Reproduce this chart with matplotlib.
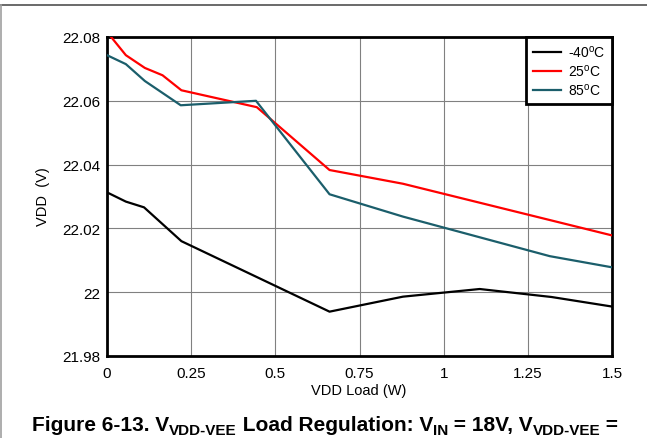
import matplotlib
matplotlib.use('Agg')
import matplotlib.pyplot as plt
from matplotlib.ticker import FixedLocator, FuncFormatter
from matplotlib.lines import Line2D

plt.rcParams['font.family'] = ['Liberation Sans', 'DejaVu Sans']
plt.rcParams['mathtext.fontset'] = 'custom'
plt.rcParams['mathtext.rm'] = 'Liberation Sans'
plt.rcParams['mathtext.bf'] = 'Liberation Sans:bold'

# data
load_m40 = [0, 0.056, 0.11, 0.221, 0.661, 0.879, 1.107, 1.32, 1.5]
vdd_m40 = [22.0313, 22.0284, 22.0266, 22.016, 21.9939, 21.9986, 22.001, 21.9985, 21.9955]
load_25 = [0, 0.056, 0.1125, 0.165, 0.221, 0.445, 0.661, 0.879, 1.5]
vdd_25 = [22.0816, 22.0743, 22.0703, 22.068, 22.0633, 22.058, 22.0383, 22.034, 22.0178]
load_85 = [0, 0.056, 0.1125, 0.219, 0.4425, 0.661, 0.879, 1.315, 1.5]
vdd_85 = [22.0743, 22.0715, 22.0662, 22.0586, 22.06, 22.0307, 22.0237, 22.0113, 22.0078]
series_labels = ['-40$^{\\mathrm{o}}$C', '25$^{\\mathrm{o}}$C', '85$^{\\mathrm{o}}$C']
series_colors = ['black', '#ff0000', '#1b5e6b']
x_ticks = [0, 0.25, 0.5, 0.75, 1, 1.25, 1.5]
y_ticks = [21.98, 22, 22.02, 22.04, 22.06, 22.08]

W, H = 647, 439
fig = plt.figure(figsize=(W / 100, H / 100), dpi=100)
ax = fig.add_axes([107 / W, 1 - 357 / H, 505 / W, 319 / H])

for xs, ys, lab, col in zip([load_m40, load_25, load_85], [vdd_m40, vdd_25, vdd_85],
                            series_labels, series_colors):
    ax.plot(xs, ys, color=col, lw=1.6, label=lab, zorder=3)

ax.set_xlim(0, 1.5)
ax.set_ylim(21.98, 22.08)
ax.xaxis.set_major_locator(FixedLocator(x_ticks))
ax.yaxis.set_major_locator(FixedLocator(y_ticks))
fmt = FuncFormatter(lambda v, p: '{:g}'.format(round(v, 4)))
ax.xaxis.set_major_formatter(fmt)
ax.yaxis.set_major_formatter(fmt)
ax.tick_params(length=0, labelsize=11, colors='black')
ax.tick_params(axis='x', pad=7.5)
ax.tick_params(axis='y', pad=5)
ax.grid(True, color='#808080', lw=0.8)
ax.set_axisbelow(True)
for s in ax.spines.values():
    s.set_linewidth(2)
    s.set_color('black')

leg = ax.legend(loc='upper right', fontsize=10, frameon=True, fancybox=False,
                borderaxespad=0, handlelength=2.0, handletextpad=0.5,
                labelspacing=0.2, borderpad=0.5)
leg.get_frame().set_edgecolor('black')
leg.get_frame().set_linewidth(2)
leg.get_frame().set_alpha(1)

fig.text(359 / W, 1 - 391 / H, 'VDD Load (W)', ha='center', va='center', fontsize=10.5)
fig.text(43 / W, 1 - 197 / H, 'VDD  (V)', ha='center', va='center', rotation=90, fontsize=10.5)

# page frame lines
fig.add_artist(Line2D([0, 1], [1 - 5.5 / H, 1 - 5.5 / H], color='#505050', lw=1.2))
fig.add_artist(Line2D([1 / W, 1 / W], [0, 1 - 5.5 / H], color='#a0a0a0', lw=1.2))

# caption with subscripts, drawn piece by piece
pieces = [('Figure 6-13. V', False), ('VDD-VEE', True), (' Load Regulation: V', False),
          ('IN', True), (' = 18V, V', False), ('VDD-VEE', True), (' =', False)]
renderer = fig.canvas.get_renderer()
x = 32
base = H - 431
for txt, sub in pieces:
    t = fig.text(x / W, (base - (4 if sub else 0)) / H, txt, fontsize=11 if sub else 15,
                 fontweight='bold', ha='left', va='baseline')
    x = t.get_window_extent(renderer).x1

fig.savefig('out.png', dpi=100)
